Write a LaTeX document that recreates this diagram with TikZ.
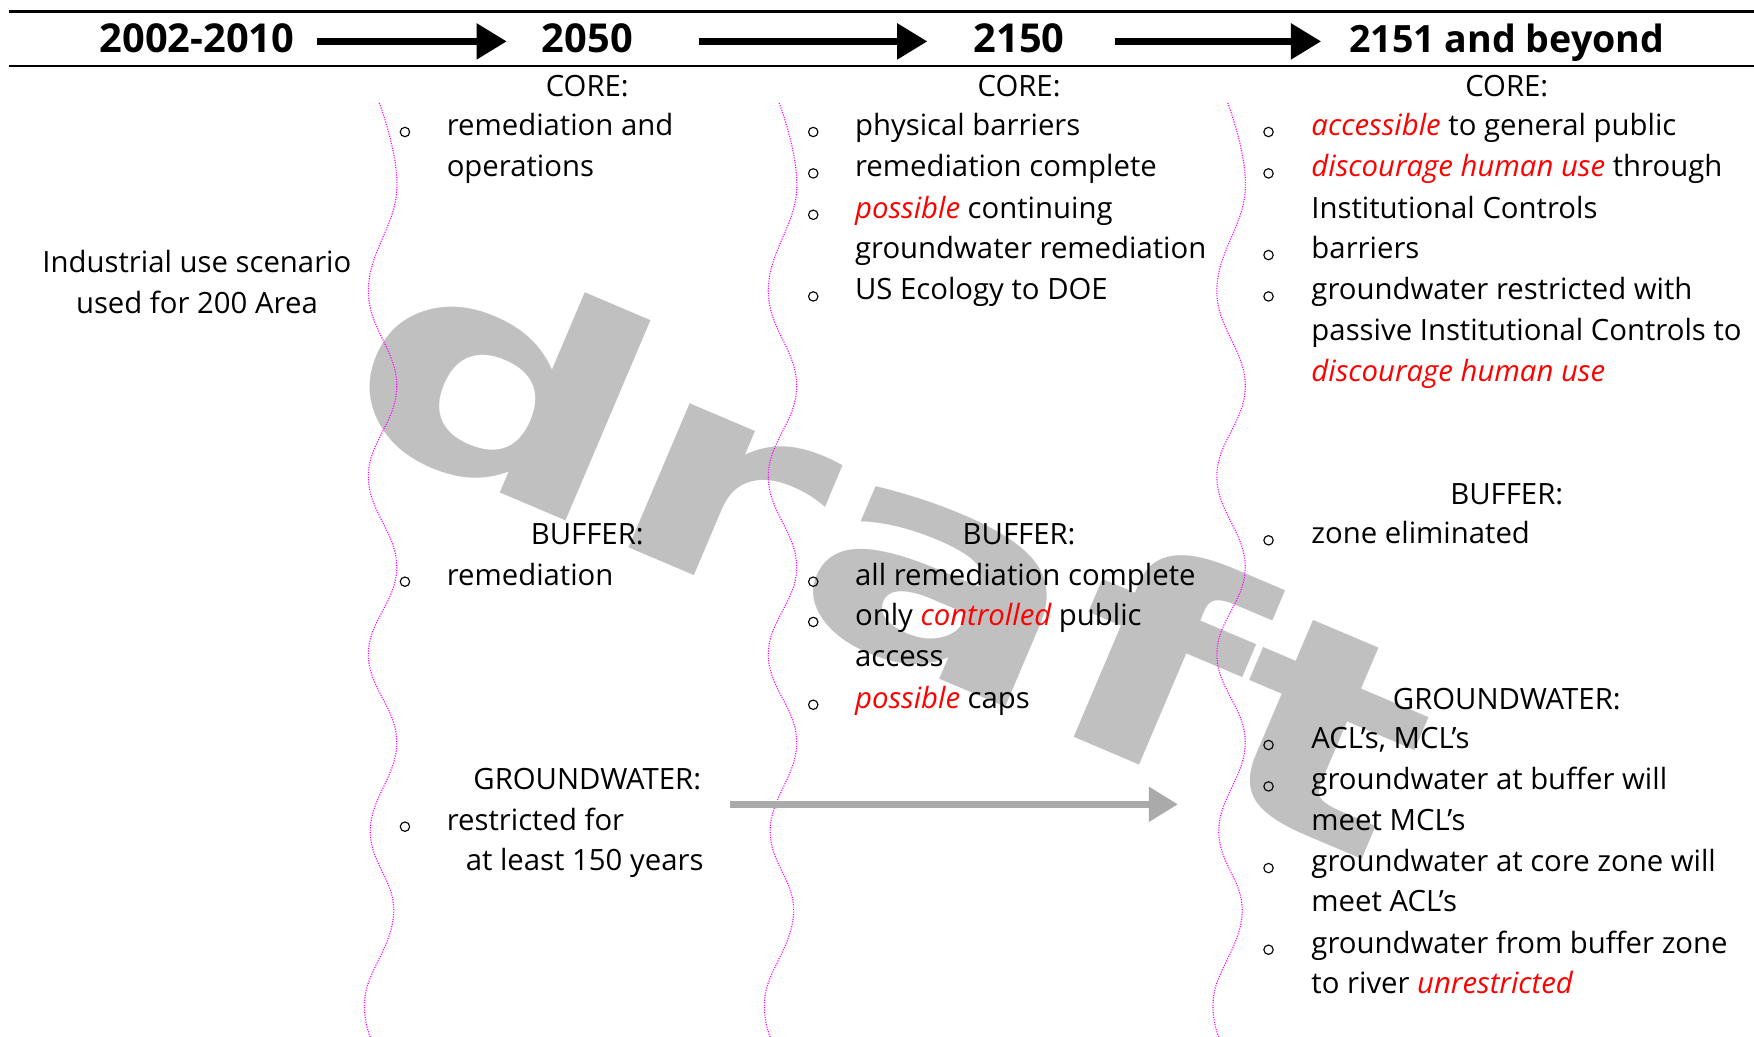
\documentclass[tikz,border=0pt]{standalone}
\usepackage{fontspec}
\setmainfont{Open Sans}
\newfontfamily\wmfont{DejaVu Sans}
\usetikzlibrary{arrows.meta}
\definecolor{wmgray}{HTML}{C0C0C0}
\definecolor{arrgray}{HTML}{AAAAAA}
\definecolor{wavemag}{HTML}{FF00FF}
\newcommand\redit[1]{\textcolor[HTML]{FF0000}{\itshape #1}}
\begin{document}
\begin{tikzpicture}[x=0.5pt,y=-0.5pt,
  hdr/.style={font=\fontsize{17.8}{21}\selectfont\bfseries, anchor=base, inner sep=0},
  txt/.style={font=\fontsize{13.1}{16}\selectfont, anchor=base west, inner sep=0},
  ctr/.style={font=\fontsize{13.1}{16}\selectfont, anchor=base, inner sep=0},
  bul/.style={circle, draw, line width=0.5pt, inner sep=0, minimum size=4.2pt},
  hrule/.style={line width=1.2pt},
  harr/.style={line width=2.9pt, -{Triangle[length=13.5pt,width=15.5pt]}},
  garr/.style={arrgray, line width=3pt, -{Triangle[length=13pt,width=15pt]}},
  wavy/.style={wavemag, line width=0.5pt, dash pattern=on 0.5pt off 0.6pt}
]
\fill[white] (0,0) rectangle (1568,927);
\useasboundingbox (0,0) rectangle (1568,927);

% watermark
\node[font=\wmfont\fontsize{128}{128}\selectfont\bfseries, text=wmgray, rotate=-23, xscale=1.42, inner sep=0] (wm) at (800,487) {draft};

% wavy separators
\foreach \c in {342,699.5,1100.5}
  \draw[wavy] plot[smooth, tension=0.7] coordinates {(\c-3,92) (\c+12.7,170) (\c-12.7,260) (\c+12.7,345) (\c-12.7,426) (\c+12.7,507) (\c-12.7,585) (\c+12.7,663) (\c-11,742) (\c+10,815) (\c-15,887) (\c-11,927)};

% header rules
\coordinate (rt1) at (8,10);  \coordinate (rt2) at (1568,10);
\coordinate (rb1) at (8,59);  \coordinate (rb2) at (1568,59);
\draw[hrule] (rt1) -- (rt2);
\draw[hrule] (rb1) -- (rb2);

% headers
\node[hdr] (h1) at (176,47) {2002-2010};
\node[hdr] (h2) at (525,47) {2050};
\node[hdr] (h3) at (911,47) {2150};
\node[hdr, font=\fontsize{16.8}{21}\selectfont\bfseries] (h4) at (1347,47) {2151 and beyond};
\coordinate (a1s) at (283,37); \coordinate (a1e) at (453,37);
\coordinate (a2s) at (625,37); \coordinate (a2e) at (829,37);
\coordinate (a3s) at (997,37); \coordinate (a3e) at (1181,37);
\draw[harr] (a1s) -- (a1e);
\draw[harr] (a2s) -- (a2e);
\draw[harr] (a3s) -- (a3e);

% column 1
\node[ctr] (c1a) at (176,244) {Industrial use scenario};
\node[ctr] (c1b) at (176,280) {used for 200 Area};

% column 2
\node[ctr] (c2core) at (525,86) {CORE:};
\node[bul] (c2b1) at (362,118) {};
\node[txt] (c2l1) at (399,121) {remediation and};
\node[txt] (c2l2) at (399,158) {operations};
\node[ctr] (c2buf) at (525,487) {BUFFER:};
\node[bul] (c2b2) at (362,520) {};
\node[txt] (c2l3) at (399,523) {remediation};
\node[ctr] (c2gw) at (525,706) {GROUNDWATER:};
\node[bul] (c2b3) at (362,739) {};
\node[txt] (c2l4) at (399,742) {restricted for};
\node[txt] (c2l5) at (416,778) {at least 150 years};

% column 3
\node[ctr] (c3core) at (911,86) {CORE:};
\node[bul] (c3b1) at (727,118) {};
\node[txt] (c3l1) at (764,121) {physical barriers};
\node[bul] (c3b2) at (727,155) {};
\node[txt] (c3l2) at (764,158) {remediation complete};
\node[bul] (c3b3) at (727,192) {};
\node[txt] (c3l3) at (764,195) {\redit{possible} continuing};
\node[txt] (c3l4) at (764,231) {groundwater remediation};
\node[bul] (c3b4) at (727,265) {};
\node[txt] (c3l5) at (764,268) {US Ecology to DOE};
\node[ctr] (c3buf) at (911,487) {BUFFER:};
\node[bul] (c3b5) at (727,520) {};
\node[txt] (c3l6) at (764,523) {all remediation complete};
\node[bul] (c3b6) at (727,556) {};
\node[txt] (c3l7) at (764,559) {only \redit{controlled} public};
\node[txt] (c3l8) at (764,596) {access};
\node[bul] (c3b7) at (727,630) {};
\node[txt] (c3l9) at (764,633) {\redit{possible} caps};

% column 4
\node[ctr] (c4core) at (1347,86) {CORE:};
\node[bul] (c4b1) at (1134,118) {};
\node[txt] (c4l1) at (1172,121) {\redit{accessible} to general public};
\node[bul] (c4b2) at (1134,155) {};
\node[txt] (c4l2) at (1172,158) {\redit{discourage human use} through};
\node[txt] (c4l3) at (1172,195) {Institutional Controls};
\node[bul] (c4b3) at (1134,228) {};
\node[txt] (c4l4) at (1172,231) {barriers};
\node[bul] (c4b4) at (1134,265) {};
\node[txt] (c4l5) at (1172,268) {groundwater restricted with};
\node[txt] (c4l6) at (1172,304) {passive Institutional Controls to};
\node[txt] (c4l7) at (1172,341) {\redit{discourage human use}};
\node[ctr] (c4buf) at (1347,451) {BUFFER:};
\node[bul] (c4b5) at (1134,483) {};
\node[txt] (c4l8) at (1172,486) {zone eliminated};
\node[ctr] (c4gw) at (1347,634) {GROUNDWATER:};
\node[bul] (c4b6) at (1134,666) {};
\node[txt] (c4l9) at (1172,669) {ACL's, MCL's};
\node[bul] (c4b7) at (1134,703) {};
\node[txt] (c4l10) at (1172,706) {groundwater at buffer will};
\node[txt] (c4l11) at (1172,742) {meet MCL's};
\node[bul] (c4b8) at (1134,776) {};
\node[txt] (c4l12) at (1172,779) {groundwater at core zone will};
\node[txt] (c4l13) at (1172,815) {meet ACL's};
\node[bul] (c4b9) at (1134,849) {};
\node[txt] (c4l14) at (1172,852) {groundwater from buffer zone};
\node[txt] (c4l15) at (1172,888) {to river \redit{unrestricted}};

% grey arrow
\coordinate (gas) at (653,719);
\coordinate (gae) at (1053,719);
\draw[garr] (gas) -- (gae);
\end{tikzpicture}
\end{document}
